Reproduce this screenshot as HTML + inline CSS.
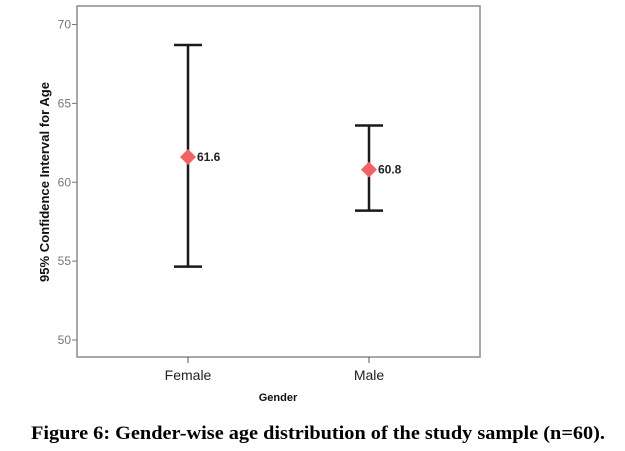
<!DOCTYPE html>
<html><head><meta charset="utf-8"><style>
body{margin:0;background:#fff;width:625px;height:451px;overflow:hidden}
svg{display:block}
</style></head><body>
<svg width="625" height="451">
<rect x="77" y="6" width="403" height="351" fill="#fff" stroke="#8c8c8c" stroke-width="1.5"/>
<g id="yaxis"></g>
<g id="xaxis"></g>
<g id="marks"></g>
<text x="0" y="0" transform="translate(49,182) rotate(-90)" text-anchor="middle" font-family="Liberation Sans, sans-serif" font-weight="bold" font-size="12.5" fill="#111" textLength="200" lengthAdjust="spacingAndGlyphs">95% Confidence Interval for Age</text>
<text x="278" y="401" text-anchor="middle" font-family="Liberation Sans, sans-serif" font-weight="bold" font-size="11" fill="#111">Gender</text>
<text x="31" y="439" font-family="Liberation Serif, serif" font-weight="bold" font-size="19" fill="#000" textLength="574" lengthAdjust="spacingAndGlyphs">Figure 6: Gender-wise age distribution of the study sample (n=60).</text>
</svg>
<script>
const categories=["Female","Male"];
const means=[61.6,60.8];
const lower=[54.65,58.2];
const upper=[68.7,63.6];
const yTicks=[50,55,60,65,70];
const ns="http://www.w3.org/2000/svg";
function y(v){return 340-(v-50)*(340-24.5)/20;}
function x(i){return [188,369][i];}
function el(t,a,p){const e=document.createElementNS(ns,t);for(const k in a)e.setAttribute(k,a[k]);p.appendChild(e);return e;}
const ya=document.getElementById('yaxis'),xa=document.getElementById('xaxis'),mk=document.getElementById('marks');
yTicks.forEach(t=>{
 const l=el('line',{x1:72,x2:77,y1:y(t),y2:y(t),stroke:'#777'},ya);
 
 
 const tx=el('text',{x:71,y:y(t)+4,'text-anchor':'end','font-family':'Liberation Sans Narrow, Liberation Sans, sans-serif','font-size':'12',fill:'#777'},ya);
 tx.textContent=t;
 
 
});
categories.forEach((c,i)=>{
 const cx=x(i);
 const tk=el('line',{x1:cx,x2:cx,y1:357,y2:363,stroke:'#555'},xa);
 
 
 const tl=el('text',{x:cx,y:380,'text-anchor':'middle','font-family':'Liberation Sans, sans-serif','font-size':'14',fill:'#222'},xa);
 tl.textContent=c;
 
 
 const g=el('g',{},mk);
 
 
 el('line',{x1:cx,x2:cx,y1:y(upper[i]),y2:y(lower[i]),stroke:'#1a1a1a','stroke-width':2.5},g);
 el('line',{x1:cx-14,x2:cx+14,y1:y(upper[i]),y2:y(upper[i]),stroke:'#1a1a1a','stroke-width':2.5},g);
 el('line',{x1:cx-14,x2:cx+14,y1:y(lower[i]),y2:y(lower[i]),stroke:'#1a1a1a','stroke-width':2.5},g);
 const m=y(means[i]);
 const d=el('polygon',{points:`${cx},${m-8} ${cx+8},${m} ${cx},${m+8} ${cx-8},${m}`,fill:'#f06464'},g);
 
 
 const v=el('text',{x:cx+9,y:m+4,'font-family':'Liberation Sans, sans-serif','font-size':'12','font-weight':'bold',fill:'#222'},g);
 v.textContent=means[i].toFixed(1);
 
 
});
</script>
</body></html>
